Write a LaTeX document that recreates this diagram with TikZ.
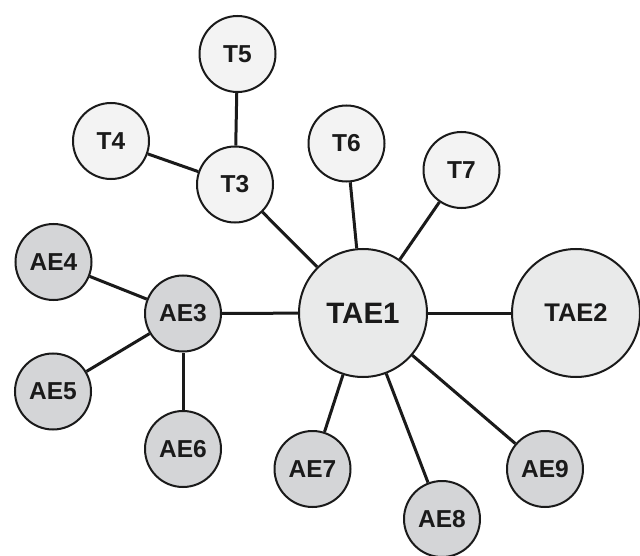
\documentclass[tikz,border=0pt]{standalone}
\usepackage{fontspec}
\setmainfont{Liberation Sans}
\definecolor{tfill}{HTML}{F3F3F3}
\definecolor{tacfill}{HTML}{E9EAEA}
\definecolor{aefill}{HTML}{D4D5D7}
\definecolor{ink}{HTML}{1A1A1A}
\begin{document}
\begin{tikzpicture}[x=1pt,y=-1pt,
  base/.style={circle,draw=ink,line width=2pt,inner sep=0pt,text=ink,font=\bfseries\fontsize{24.5}{26}\selectfont},
  tnode/.style={base,fill=tfill,minimum size=76pt},
  aenode/.style={base,fill=aefill,minimum size=76pt},
  bignode/.style={base,fill=tacfill,minimum size=128pt},
  link/.style={draw=ink,line width=3pt}]
\useasboundingbox (0,0) rectangle (640,556);

% upper branch
\node[tnode] (t5) at (237.5,54) {T5};
\node[tnode] (t4) at (111,141) {T4};
\node[tnode] (t3) at (235,184.5) {T3};
\node[tnode] (t6) at (346.5,143.5) {T6};
\node[tnode] (t7) at (461.5,170) {T7};

% central pair
\node[bignode,font=\bfseries\fontsize{29.5}{31}\selectfont] (tae1) at (363,313) {TAE1};
\node[bignode,font=\bfseries\fontsize{25.5}{27}\selectfont] (tae2) at (576,313) {TAE2};

% lower branch
\node[aenode] (ae4) at (53.5,262) {AE4};
\node[aenode] (ae3) at (183,313.5) {AE3};
\node[aenode] (ae5) at (53,391.5) {AE5};
\node[aenode] (ae6) at (183,449) {AE6};
\node[aenode] (ae7) at (312.5,469) {AE7};
\node[aenode] (ae8) at (442,519) {AE8};
\node[aenode] (ae9) at (545,469) {AE9};

% connectors
\draw[link] (t5) -- (t3);
\draw[link] (t4) -- (t3);
\draw[link] (t3) -- (tae1);
\draw[link] (t6) -- (tae1);
\draw[link] (t7) -- (tae1);
\draw[link] (tae1) -- (tae2);
\draw[link] (ae3) -- (tae1);
\draw[link] (ae4) -- (ae3);
\draw[link] (ae5) -- (ae3);
\draw[link] (ae6) -- (ae3);
\draw[link] (ae7) -- (tae1);
\draw[link] (ae8) -- (tae1);
\draw[link] (ae9) -- (tae1);
\end{tikzpicture}
\end{document}
